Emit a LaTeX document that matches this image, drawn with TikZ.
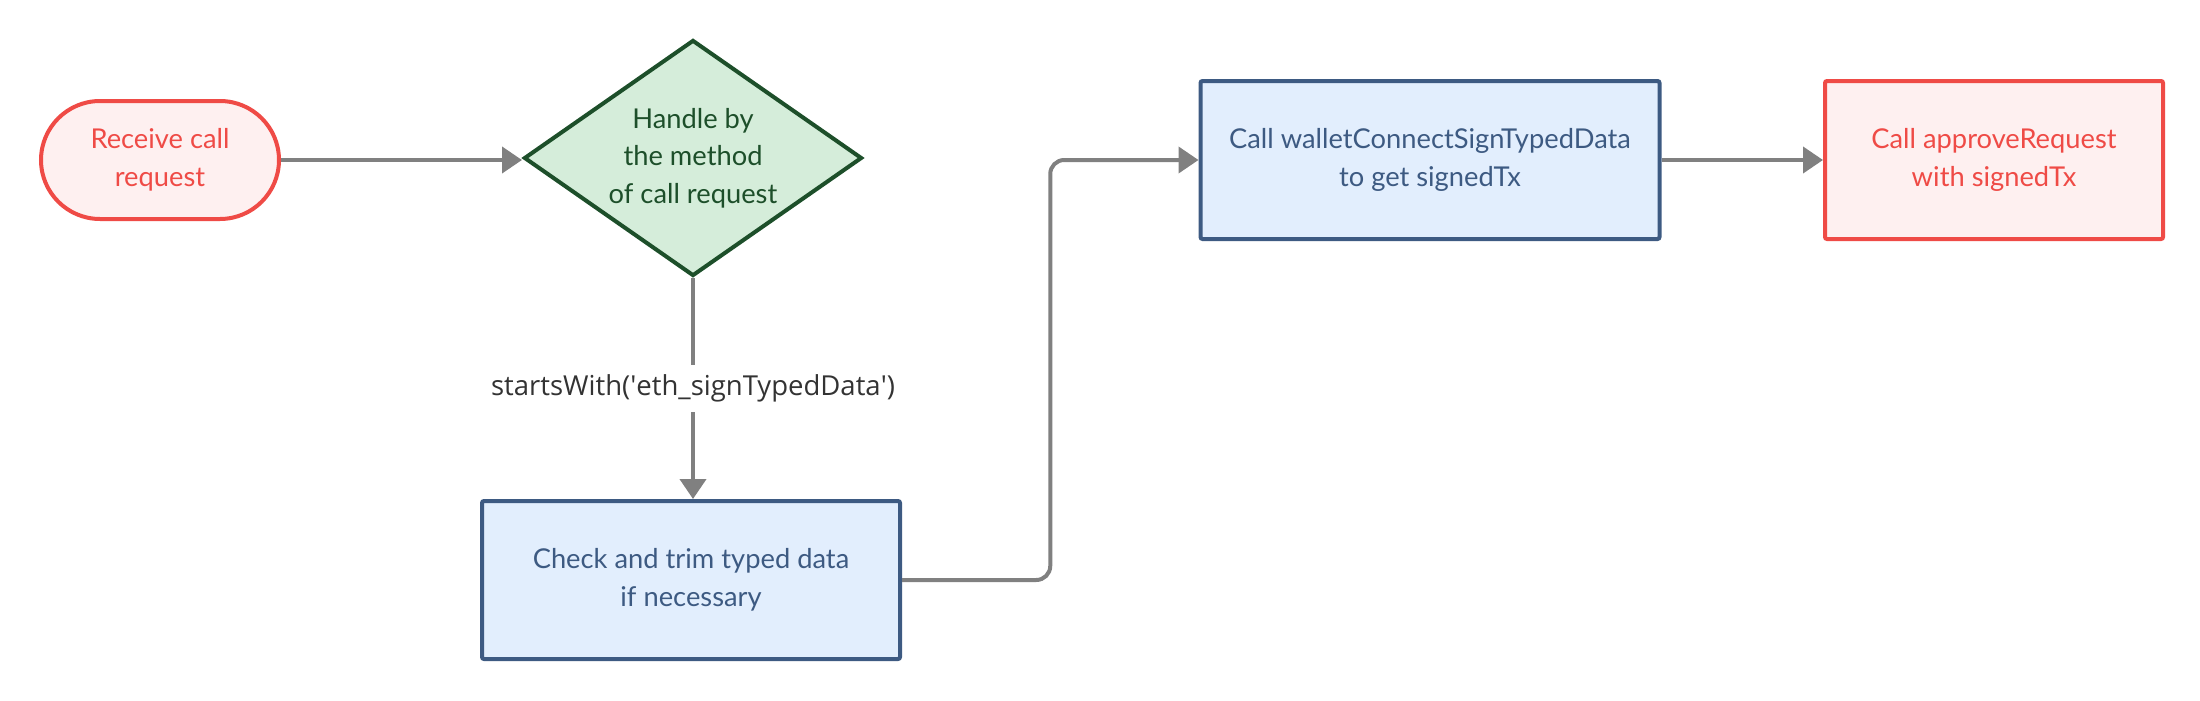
\documentclass[tikz,border=0pt]{standalone}
\usepackage{fontspec}
\setmainfont{Lato}
\newfontfamily\labelfont{Open Sans}
\usetikzlibrary{shapes.geometric, arrows.meta, calc}
\definecolor{redS}{HTML}{EF4B46}
\definecolor{redF}{HTML}{FEF0F0}
\definecolor{grnS}{HTML}{1D4F2A}
\definecolor{grnF}{HTML}{D5EDDA}
\definecolor{bluS}{HTML}{3D5A82}
\definecolor{bluF}{HTML}{E2EEFD}
\definecolor{arrC}{HTML}{808080}
\definecolor{lblC}{HTML}{333333}
\begin{document}
\begin{tikzpicture}[x=1pt,y=-1pt, font=\fontsize{27.3}{37.5}\selectfont,
 base/.style={line width=4pt, align=center, inner sep=0pt},
 startnode/.style={base, draw=redS, fill=redF, text=redS, rectangle, rounded corners=59pt, minimum width=238pt, minimum height=118pt},
 decision/.style={base, draw=grnS, fill=grnF, diamond, minimum width=338pt, minimum height=236pt},
 procbox/.style={base, draw=bluS, fill=bluF, text=bluS, rounded corners=2pt, minimum height=158pt},
 endbox/.style={base, draw=redS, fill=redF, text=redS, rounded corners=2pt, minimum height=158pt},
 arr/.style={draw=arrC, line width=4pt, -{Triangle[length=20pt,width=26pt]}},
 edgelabel/.style={fill=white, text=lblC, font=\labelfont\fontsize{27.5}{32}\selectfont, inner xsep=2pt, inner ysep=10pt}]
\useasboundingbox (0,0) rectangle (2200,701);
\node[startnode] (recv) at (160,160) {Receive call\\request};
\node[decision, label={[text=grnS, align=center]center:Handle by\\the method\\of call request}] (dia) at (693,158) {};
\node[procbox, minimum width=418pt] (chk) at (691,580) {Check and trim typed data\\if necessary};
\node[procbox, minimum width=459pt] (call) at (1430,160) {Call walletConnectSignTypedData\\to get signedTx};
\node[endbox, minimum width=338pt] (appr) at (1994,160) {Call approveRequest\\with signedTx};
\draw[arr] (recv.east) -- (recv.east -| dia.west);
\draw[arr] (dia.south) -- node[edgelabel] {startsWith(\textquotesingle eth\_signTypedData\textquotesingle)} (chk.north -| dia.south);
\coordinate (mid) at ($(chk.east)!0.5!(call.west)$);
\draw[arr, rounded corners=14pt] (chk.east) -| (mid |- call.west) -- (call.west);
\draw[arr] (call.east) -- (appr.west);
\end{tikzpicture}
\end{document}
